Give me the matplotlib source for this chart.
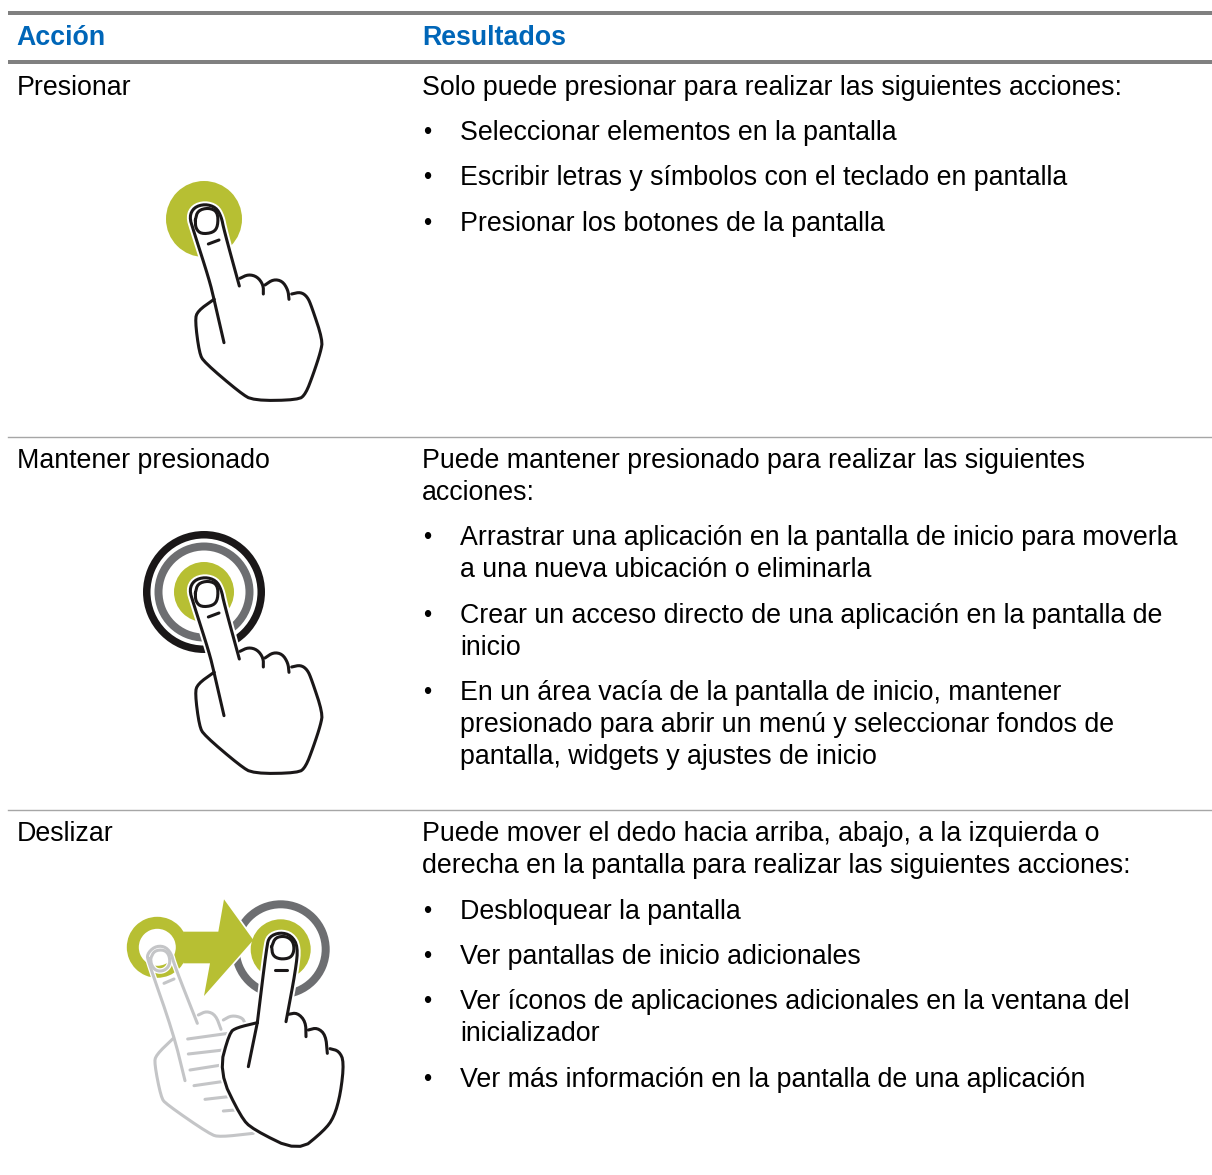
import numpy as np
import matplotlib
matplotlib.use('Agg')
import matplotlib.pyplot as plt
from matplotlib.patches import Circle, Polygon, Wedge

plt.rcParams['font.family'] = ['Liberation Sans', 'DejaVu Sans']

headers = ['Acción', 'Resultados']
actions = ['Presionar', 'Mantener presionado', 'Deslizar']
action_y = [95, 468, 841]

# (baseline, bullet?, text)
results = [
    (95, False, 'Solo puede presionar para realizar las siguientes acciones:'),
    (140, True, 'Seleccionar elementos en la pantalla'),
    (185, True, 'Escribir letras y símbolos con el teclado en pantalla'),
    (231, True, 'Presionar los botones de la pantalla'),
    (468, False, 'Puede mantener presionado para realizar las siguientes'),
    (500, False, 'acciones:'),
    (545, True, 'Arrastrar una aplicación en la pantalla de inicio para moverla'),
    (577, None, 'a una nueva ubicación o eliminarla'),
    (623, True, 'Crear un acceso directo de una aplicación en la pantalla de'),
    (655, None, 'inicio'),
    (700, True, 'En un área vacía de la pantalla de inicio, mantener'),
    (732, None, 'presionado para abrir un menú y seleccionar fondos de'),
    (764, None, 'pantalla, widgets y ajustes de inicio'),
    (841, False, 'Puede mover el dedo hacia arriba, abajo, a la izquierda o'),
    (873, False, 'derecha en la pantalla para realizar las siguientes acciones:'),
    (919, True, 'Desbloquear la pantalla'),
    (964, True, 'Ver pantallas de inicio adicionales'),
    (1009, True, 'Ver íconos de aplicaciones adicionales en la ventana del'),
    (1041, None, 'inicializador'),
    (1087, True, 'Ver más información en la pantalla de una aplicación'),
]

BLUE = '#0066b8'
GREEN = '#b7bf33'
GREY = '#6d6e71'
INK = '#1a1718'
PALE = '#c4c5c7'

# hand outlines, traced at 3x
hand_a = [
    [(192, 388), (178, 330), (130, 180), (118, 140), (132, 112), (165, 102), (198, 112), (214, 140), (222, 180), (268, 348)],
    [(270, 325), (295, 313), (322, 320), (340, 345), (340, 372)],
    [(345, 345), (370, 328), (397, 333), (414, 360), (417, 388)],
    [(425, 372), (452, 366), (472, 380), (485, 410), (518, 510), (512, 545), (490, 612), (467, 672), (445, 690),
     (310, 692), (270, 668), (163, 577), (148, 550), (135, 450), (143, 423), (192, 388)],
]
hand_a_lines = [[(192, 388), (222, 518)], [(175, 222), (207, 210)],
                [(136, 150), (143, 122), (175, 113), (203, 125), (204, 168), (190, 188), (153, 192), (137, 175), (136, 150)]]

hand_b = [
    [(412, 398), (440, 170), (448, 140), (480, 127), (514, 136), (534, 170), (527, 240), (498, 395)],
    [(505, 373), (532, 368), (557, 395), (558, 440)],
    [(565, 420), (592, 413), (617, 435), (622, 490)],
    [(630, 476), (657, 483), (672, 515), (662, 610), (642, 682), (612, 722), (535, 785), (398, 718), (363, 682),
     (297, 545), (328, 428), (350, 413), (412, 398)],
]
hand_b_lines = [[(412, 398), (385, 530)], [(465, 240), (500, 240)],
                [(455, 170), (466, 142), (497, 138), (519, 153), (523, 182), (512, 204), (480, 208), (458, 197), (455, 170)]]

hand_c_lines = [
    [(195, 572), (160, 430), (85, 215), (81, 193), (103, 170), (132, 168), (153, 188), (163, 225), (232, 400)],
    [(235, 375), (260, 363), (287, 375), (303, 418)],
    [(310, 390), (335, 376), (367, 383), (375, 400)],
    [(160, 445), (108, 495), (103, 520), (123, 622), (138, 642), (270, 733), (300, 741), (400, 730)],
    [(92, 205), (103, 182), (132, 179), (148, 195), (150, 225), (132, 243), (108, 243), (94, 225), (92, 205)],
    [(132, 280), (162, 267)],
    [(203, 447), (325, 430)], [(205, 492), (310, 480)], [(210, 540), (305, 525)],
    [(222, 587), (305, 575)], [(255, 628), (325, 620)], [(310, 663), (345, 660)],
]
arrow_pts = [(190, 125), (295, 125), (312, 28), (400, 150), (252, 318), (270, 220), (190, 220)]


def smooth(seg, n=2):
    pts = np.array(seg, float)
    for _ in range(n):
        if len(pts) < 3:
            return pts
        q = 0.75 * pts[:-1] + 0.25 * pts[1:]
        r = 0.25 * pts[:-1] + 0.75 * pts[1:]
        mid = np.empty((2 * len(q), 2))
        mid[0::2] = q
        mid[1::2] = r
        pts = np.vstack([pts[0], mid, pts[-1]])
    return pts


def place(seg, ox, oy):
    return smooth(seg) / 3 + [ox, oy]


def draw_hand(ax, outline, lines, ox, oy, z):
    parts = [place(s, ox, oy) for s in outline]
    all_pts = np.vstack(parts)
    ax.add_patch(Polygon(all_pts, closed=True, fc='white', ec='white', lw=5, zorder=z))
    for p in parts:
        ax.plot(p[:, 0], p[:, 1], color=INK, lw=2.2, solid_capstyle='round', zorder=z + 1)
    for s in lines:
        p = place(s, ox, oy)
        ax.plot(p[:, 0], p[:, 1], color=INK, lw=2.2, solid_capstyle='round', zorder=z + 1)


fig = plt.figure(figsize=(12.12, 11.75), dpi=100)
ax = fig.add_axes([0, 0, 1, 1])
ax.set_xlim(0, 1212)
ax.set_ylim(1175, 0)
ax.axis('off')

# table rules
ax.fill_between([8, 1212], 11, 15, color='#808080', lw=0)
ax.fill_between([8, 1212], 60, 64, color='#808080', lw=0)
for y in [437, 810]:
    ax.plot([8, 1212], [y, y], color='#a6a6a6', lw=1)

fs = 19.27
ax.text(16, 45, headers[0], fontsize=fs, fontweight='bold', color=BLUE)
ax.text(422, 45, headers[1], fontsize=fs, fontweight='bold', color=BLUE)
for y, t in zip(action_y, actions):
    ax.text(17, y, t, fontsize=fs, color='black')
for y, b, t in results:
    if b is False:
        ax.text(422, y, t, fontsize=fs, color='black')
    else:
        if b:
            ax.text(423, y - 1, '•', fontsize=17, color='black')
        ax.text(460, y, t, fontsize=fs, color='black')

# press icon
ax.add_patch(Circle((204, 219), 38, fc=GREEN, ec='none', zorder=3))
draw_hand(ax, hand_a, hand_a_lines, 150, 170, 4)

# long press icon
ax.add_patch(Wedge((204, 592), 61, 0, 360, width=7.5, fc=INK, ec='none', zorder=3))
ax.add_patch(Wedge((204, 592), 49.5, 0, 360, width=8, fc=GREY, ec='none', zorder=3))
ax.add_patch(Circle((204, 592), 30, fc=GREEN, ec='none', zorder=3))
draw_hand(ax, hand_a, hand_a_lines, 150, 543, 4)

# swipe icon
ax.add_patch(Wedge((280.7, 949.3), 49, 0, 360, width=8, fc=GREY, ec='none', zorder=3))
arrow = np.array(arrow_pts, float) / 3 + [120, 890]
ax.add_patch(Polygon(arrow, closed=True, fc=GREEN, ec='white', lw=2.5, zorder=4))
ax.add_patch(Polygon(arrow, closed=True, fc=GREEN, ec='none', zorder=5))
ax.add_patch(Wedge((157.3, 947.3), 30.5, 0, 360, width=12, fc=GREEN, ec='none', zorder=5))
ax.add_patch(Circle((280.7, 949.3), 30, fc=GREEN, ec='none', zorder=5))
for s in hand_c_lines:
    p = place(s, 120, 890)
    ax.plot(p[:, 0], p[:, 1], color='white', lw=4, solid_capstyle='round', zorder=6)
for s in hand_c_lines:
    p = place(s, 120, 890)
    ax.plot(p[:, 0], p[:, 1], color=PALE, lw=2.2, solid_capstyle='round', zorder=7)
draw_hand(ax, hand_b, hand_b_lines, 120, 890, 8)

fig.savefig('out.png', dpi=100)
